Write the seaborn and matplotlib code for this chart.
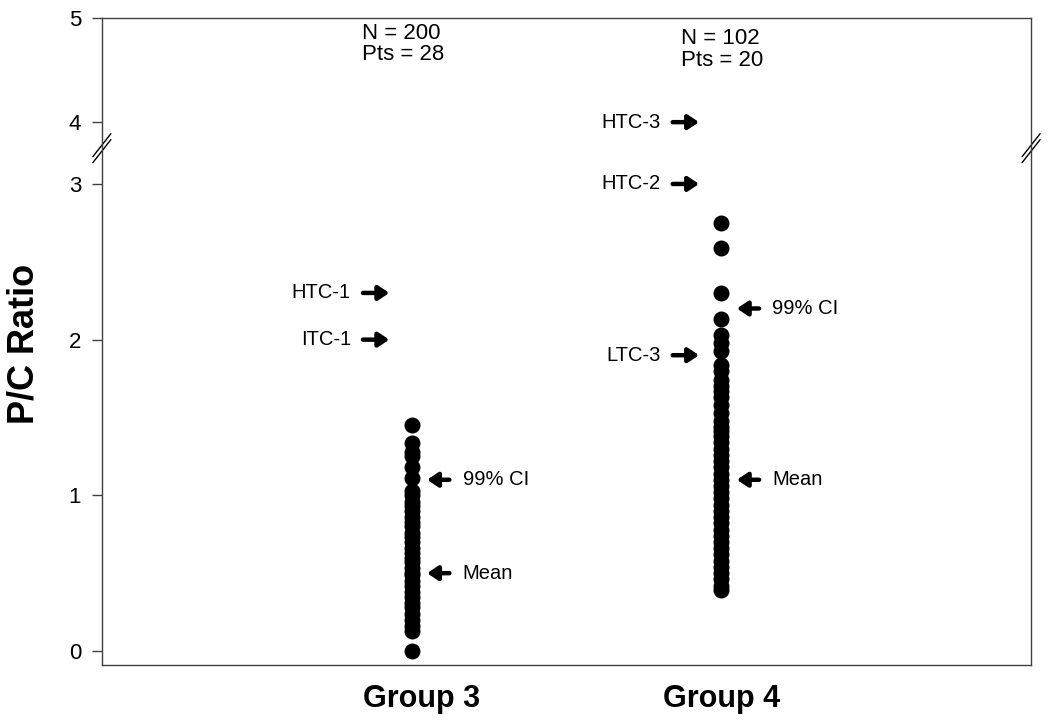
import numpy as np
import pandas as pd
import seaborn as sns
from matplotlib import pyplot as plt
from matplotlib.transforms import ScaledTranslation

# P/C ratios (overlapping dots kept dense enough to form a column)
group3 = [0.0, 0.13, 0.16, 0.20, 0.24, 0.28, 0.31, 0.35, 0.38, 0.42, 0.45, 0.49,
          0.50, 0.53, 0.57, 0.60, 0.63, 0.66, 0.70, 0.73, 0.76, 0.80, 0.83, 0.86,
          0.90, 0.93, 0.96, 1.00, 1.03, 1.11, 1.18, 1.25, 1.28, 1.335, 1.45]
group4 = [0.39, 0.42, 0.46, 0.50, 0.54, 0.58, 0.62, 0.66, 0.70, 0.74, 0.78, 0.82,
          0.86, 0.90, 0.94, 0.98, 1.02, 1.06, 1.10, 1.14, 1.18, 1.22, 1.26, 1.30,
          1.34, 1.38, 1.41, 1.44, 1.48, 1.53, 1.58, 1.63, 1.67, 1.70, 1.74, 1.80,
          1.84, 1.93, 1.98, 2.03, 2.13, 2.30, 2.59, 2.75]
groups = ['Group 3', 'Group 4']
counts = ['N = 200\nPts = 28', 'N = 102\nPts = 20']

# reference markers: (group, label, value)
right_marks = [('Group 3', 'HTC-1', 2.3), ('Group 3', 'ITC-1', 2.0),
               ('Group 4', 'HTC-3', 4.0), ('Group 4', 'HTC-2', 3.0),
               ('Group 4', 'LTC-3', 1.9)]
left_marks = [('Group 3', '99% CI', 1.1), ('Group 3', 'Mean', 0.5),
              ('Group 4', '99% CI', 2.2), ('Group 4', 'Mean', 1.1)]

df = pd.DataFrame({
    'group': ['Group 3'] * len(group3) + ['Group 4'] * len(group4),
    'ratio': group3 + group4,
})

sns.set_style('white')
plt.rcParams['font.family'] = ['Liberation Sans', 'DejaVu Sans']
plt.rcParams['text.color'] = 'black'
plt.rcParams['xtick.color'] = 'black'
plt.rcParams['ytick.color'] = 'black'
plt.rcParams['axes.labelcolor'] = 'black'

fig = plt.figure(figsize=(10.5, 7.26), dpi=100)
ax = fig.add_axes([0.097, 0.084, 0.885, 0.891])

sns.stripplot(data=df, x='group', y='ratio', order=groups, jitter=False,
              color='black', size=11.5, linewidth=0, ax=ax)

# broken axis: 3..4 squeezed, 4..5 a bit compressed
brk_x = [-10, 3, 4, 10]
brk_y = [-10, 3, 3.397, 3.397 + 6 * 0.668]
ax.set_yscale('function', functions=(lambda v: np.interp(v, brk_x, brk_y),
                                     lambda v: np.interp(v, brk_y, brk_x)))
ax.set_ylim(-0.09, 5)
ax.set_xlim(-1, 2)
ax.set_yticks([0, 1, 2, 3, 4, 5])
ax.set_yticklabels(['0', '1', '2', '3', '4', '5'])
ax.minorticks_off()

for s in ax.spines.values():
    s.set_color('#404040')
    s.set_linewidth(1.0)
ax.tick_params(axis='y', direction='out', length=7, width=1, color='#404040',
               labelsize=16, pad=8, left=True)
ax.tick_params(axis='x', length=0, labelsize=22, pad=14)
xlabels = ax.get_xticklabels()
for lbl in xlabels:
    lbl.set_fontweight('bold')
# the first group label sits a little right of its column in the original
xlabels[0].set_transform(xlabels[0].get_transform()
                         + ScaledTranslation(0.10, 0, fig.dpi_scale_trans))

ax.set_xlabel('')
ax.set_ylabel('P/C Ratio', fontsize=26, fontweight='bold')
ax.yaxis.set_label_coords(-0.065, 0.497)

# break marks on both spines
for xa in [0.0, 1.0]:
    for off in [-0.0046, 0.0046]:
        ax.plot([xa - 0.0097, xa + 0.0097], [0.799 + off - 0.0178, 0.799 + off + 0.0178],
                transform=ax.transAxes, color='black', lw=1, clip_on=False)

arrow = dict(arrowstyle='-|>,head_width=0.3,head_length=0.45', lw=3.2,
             color='black', shrinkA=0, shrinkB=0, mutation_scale=14)
for grp, label, val in right_marks:
    x0 = groups.index(grp)
    ax.annotate('', xy=(x0 - 0.072, val), xytext=(x0 - 0.157, val), arrowprops=arrow)
    ax.text(x0 - 0.196, val, label, ha='right', va='center', fontsize=14.5)
for grp, label, val in left_marks:
    x0 = groups.index(grp)
    ax.annotate('', xy=(x0 + 0.05, val), xytext=(x0 + 0.122, val), arrowprops=arrow)
    ax.text(x0 + 0.165, val, label, ha='left', va='center', fontsize=14.5)

# sample sizes at the top
tr = ax.get_xaxis_transform()
ax.text(-0.159, 0.993, counts[0], transform=tr, ha='left', va='top',
        fontsize=16, linespacing=1.05)
ax.text(1 - 0.13, 0.985, counts[1], transform=tr, ha='left', va='top',
        fontsize=16, linespacing=1.05)

plt.savefig('out.png', dpi=100)
